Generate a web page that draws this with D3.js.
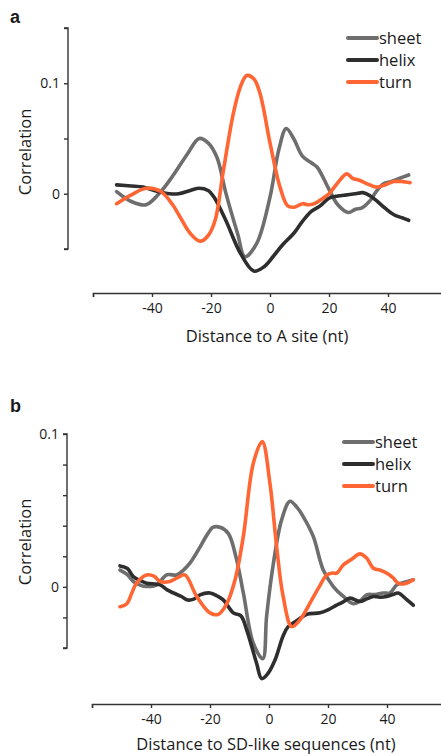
<!DOCTYPE html>
<html>
<head>
<meta charset="utf-8">
<script src="https://cdn.jsdelivr.net/npm/d3@7"></script>
<style>
  body { margin: 0; background: #fff; }
  text { font-family: "Open Sans", "Noto Sans", sans-serif; fill: #1a1a1a; }
</style>
</head>
<body>
<script>
// Panel a data: distance to A site (nt) vs correlation
const aSheetX = [-52, -47, -42, -37, -33, -28, -24, -21, -18, -15, -11, -8.5, -4.5, 0, 3, 5.5, 8, 11, 14, 16, 20, 23, 26.5, 29, 31, 34, 36, 38.5, 41, 44, 47];
const aSheetY = [0.002, -0.007, -0.010, 0.002, 0.016, 0.036, 0.050, 0.046, 0.033, 0.001, -0.036, -0.057, -0.045, -0.003, 0.040, 0.059, 0.050, 0.034, 0.028, 0.024, 0.004, -0.010, -0.017, -0.014, -0.013, -0.006, 0.002, 0.009, 0.011, 0.014, 0.017];
const aHelixX = [-52, -47, -43, -38, -34, -31, -27, -24, -21, -19, -15, -10, -5.5, -2, 1, 4, 8, 11, 14, 17, 20, 23, 26, 29, 31.5, 34, 36, 39, 42, 45, 47];
const aHelixY = [0.008, 0.007, 0.006, 0.002, 0.000, 0.000, 0.003, 0.005, 0.003, -0.003, -0.024, -0.054, -0.070, -0.066, -0.057, -0.047, -0.036, -0.025, -0.016, -0.011, -0.004, -0.002, -0.001, 0.000, 0.001, -0.002, -0.006, -0.013, -0.019, -0.022, -0.024];
const aTurnX = [-52, -47, -42, -37, -33, -30.5, -27, -23.7, -21, -18.6, -15.8, -12.4, -10, -7.9, -5.5, -3.4, 0, 3.4, 6, 8.5, 11, 13, 15, 18, 20, 23, 26, 28, 30.5, 33, 36, 39, 42, 45, 47.5];
const aTurnY = [-0.009, -0.001, 0.005, 0.002, -0.010, -0.021, -0.036, -0.043, -0.038, -0.024, 0.021, 0.073, 0.097, 0.107, 0.104, 0.091, 0.046, 0.006, -0.011, -0.012, -0.009, -0.010, -0.009, -0.004, 0.000, 0.010, 0.018, 0.014, 0.012, 0.009, 0.006, 0.008, 0.011, 0.011, 0.010];

// Panel b data: distance to SD-like sequences (nt) vs correlation
const bSheetX = [-50.5, -48, -46, -43.5, -41.5, -38, -34.7, -31.3, -29, -26.8, -23.4, -21, -18.9, -16.6, -13.8, -11, -8.7, -5.3, -2.1, -0.8, 1.5, 4.3, 7.1, 9.5, 11.6, 15, 18.4, 21.8, 25.2, 28.6, 31, 33.1, 36, 38.7, 41, 43.3, 46, 48.9];
const bSheetY = [0.011, 0.008, 0.0035, 0.001, 0.0002, 0.0013, 0.0078, 0.0078, 0.011, 0.0155, 0.026, 0.034, 0.039, 0.039, 0.035, 0.018, -0.004, -0.037, -0.047, -0.019, 0.0155, 0.044, 0.056, 0.052, 0.046, 0.033, 0.011, 0.0002, -0.0063, -0.011, -0.009, -0.0052, -0.005, -0.004, -0.004, 0.0013, 0.003, 0.0046];
const bHelixX = [-50.5, -48, -46, -43.5, -41.5, -36.9, -34.5, -32.4, -29.5, -27.9, -25.5, -23.4, -20, -17.5, -15.5, -12.1, -9.5, -7.6, -4.2, -2.5, -0.5, 2, 4.8, 6.5, 9.5, 12.8, 17.3, 20, 22.9, 25, 27.5, 30.8, 33, 35.4, 37.5, 39.9, 42, 43.8, 46.5, 48.9];
const bHelixY = [0.0137, 0.012, 0.0067, 0.004, 0.0024, 0.0013, -0.002, -0.004, -0.0065, -0.0085, -0.008, -0.0052, -0.004, -0.006, -0.0085, -0.017, -0.019, -0.028, -0.050, -0.060, -0.057, -0.048, -0.032, -0.026, -0.022, -0.018, -0.017, -0.015, -0.012, -0.010, -0.0074, -0.0096, -0.008, -0.0063, -0.0068, -0.0063, -0.005, -0.004, -0.008, -0.012];
const bTurnX = [-50.5, -48.2, -46.5, -44.9, -41.5, -39, -36.9, -33.6, -31, -28.5, -24.5, -20, -17.2, -14.3, -11.5, -8.7, -5.3, -2.3, 0.3, 2.6, 4.8, 7.7, 10.5, 14.5, 17, 19.6, 21.3, 23, 25.2, 28, 30.8, 33, 35.4, 37.5, 39.9, 42, 43.8, 46, 48.9];
const bTurnY = [-0.013, -0.011, -0.004, 0.0024, 0.0078, 0.007, 0.0035, 0.0035, 0.006, 0.0078, -0.0063, -0.017, -0.018, -0.011, 0.0046, 0.033, 0.081, 0.095, 0.068, 0.026, -0.0063, -0.026, -0.0216, -0.0085, 0.000, 0.0078, 0.009, 0.009, 0.0144, 0.018, 0.0216, 0.019, 0.0122, 0.011, 0.009, 0.006, 0.0024, 0.002, 0.0046];

const seriesNames = ["sheet", "helix", "turn"];
const seriesColors = ["#6e6e6e", "#2e2e2e", "#ff6633"];
const xTickValues = [-40, -20, 0, 20, 40];

const svg = d3.select("body").append("svg")
    .attr("width", 441)
    .attr("height", 756);

function drawPanel(opt) {
    const x = d3.scaleLinear().domain([-60, 60]).range(opt.xRange);
    const y = d3.scaleLinear().domain(opt.yDomain).range(opt.yRange);
    const g = svg.append("g");

    // panel letter
    g.append("text")
        .attr("x", 10).attr("y", opt.letterY)
        .style("font-size", "18px").style("font-weight", "bold")
        .style("font-family", "Liberation Sans, Arial, sans-serif")
        .text(opt.letter);

    // y axis
    const yAxis = g.append("g")
        .attr("transform", `translate(${opt.yAxisX},0)`)
        .call(d3.axisLeft(y).tickValues(opt.yTicks).tickSize(4)
            .tickFormat(d => opt.yLabels.includes(d) ? (d === 0 ? "0" : d3.format(".1f")(d)) : ""));
    yAxis.select(".domain").attr("stroke", "#333").attr("stroke-width", 1.4).attr("d", `M-4,${y(opt.yDomain[1])}H0V${y(opt.yDomain[0])}H-4`);
    yAxis.selectAll(".tick line").attr("stroke", "#333").attr("stroke-width", 1.4);
    yAxis.selectAll(".tick text").style("font-size", "14px").attr("x", -8).attr("fill", "#1a1a1a")
        .style("font-family", "\"Open Sans\", sans-serif");

    g.append("text")
        .attr("transform", `translate(31,${opt.yTitleY}) rotate(-90)`)
        .attr("text-anchor", "middle")
        .style("font-size", "16.5px")
        .text("Correlation");

    // x axis
    const xAxis = g.append("g")
        .attr("transform", `translate(0,${opt.xAxisY})`)
        .call(d3.axisBottom(x).tickValues([-60, -40, -20, 0, 20, 40, 60]).tickSize(4)
            .tickFormat(d => xTickValues.includes(d) ? d : ""));
    xAxis.select(".domain").attr("stroke", "#333").attr("stroke-width", 1.4);
    xAxis.selectAll(".tick line").attr("stroke", "#333").attr("stroke-width", 1.4);
    xAxis.selectAll(".tick text").style("font-size", "14px").attr("y", 10).attr("fill", "#1a1a1a")
        .style("font-family", "\"Open Sans\", sans-serif");

    g.append("text")
        .attr("x", x(-1)).attr("y", opt.xTitleY)
        .attr("text-anchor", "middle")
        .style("font-size", "16.5px")
        .text(opt.xTitle);

    // lines
    const line = d3.line()
        .x(d => x(d[0]))
        .y(d => y(d[1]))
        .curve(d3.curveCatmullRom.alpha(0.5));

    opt.series.forEach((s, i) => {
        g.append("path")
            .datum(s.xs.map((v, j) => [v, s.ys[j]]))
            .attr("fill", "none")
            .attr("stroke", seriesColors[i])
            .attr("stroke-width", 3.6)
            .attr("stroke-linejoin", "round")
            .attr("stroke-linecap", "round")
            .attr("d", line);
    });

    // legend
    seriesNames.forEach((name, i) => {
        const ly = opt.legendY + i * 22;
        g.append("line")
            .attr("x1", opt.legendX).attr("x2", opt.legendX + 29)
            .attr("y1", ly).attr("y2", ly)
            .attr("stroke", seriesColors[i]).attr("stroke-width", 4)
            .attr("stroke-linecap", "round");
        g.append("text")
            .attr("x", opt.legendX + 31).attr("y", ly + 5.5)
            .style("font-size", "16.5px")
            .text(name);
    });
}

drawPanel({
    letter: "a", letterY: 23,
    xRange: [93, 447], xAxisY: 293, xTitleY: 342, xTitle: "Distance to A site (nt)",
    yDomain: [-0.05, 0.15], yRange: [249, 28], yAxisX: 68,
    yTicks: [-0.05, 0, 0.05, 0.1, 0.15], yLabels: [0, 0.1], yTitleY: 152,
    legendX: 348, legendY: 38,
    series: [
        { xs: aSheetX, ys: aSheetY },
        { xs: aHelixX, ys: aHelixY },
        { xs: aTurnX, ys: aTurnY }
    ]
});

drawPanel({
    letter: "b", letterY: 412,
    xRange: [92, 446], xAxisY: 704, xTitleY: 750, xTitle: "Distance to SD-like sequences (nt)",
    yDomain: [-0.04, 0.1], yRange: [648, 434], yAxisX: 67,
    yTicks: [-0.04, -0.02, 0, 0.02, 0.04, 0.06, 0.08, 0.1], yLabels: [0, 0.1], yTitleY: 542,
    legendX: 344, legendY: 442,
    series: [
        { xs: bSheetX, ys: bSheetY },
        { xs: bHelixX, ys: bHelixY },
        { xs: bTurnX, ys: bTurnY }
    ]
});
</script>
</body>
</html>
